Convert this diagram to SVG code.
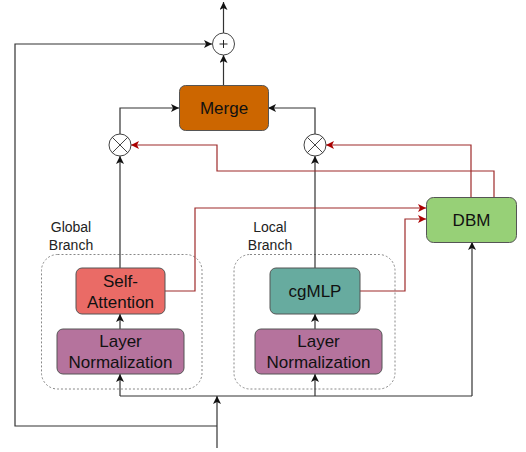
<svg xmlns="http://www.w3.org/2000/svg" width="526" height="452" viewBox="0 0 526 452">
<style>
.box{stroke:#555;stroke-width:1}
.t{font-family:"Liberation Sans",Arial,sans-serif;font-size:17px;fill:#111;text-anchor:middle}
.lbl{font-family:"Liberation Sans",Arial,sans-serif;font-size:14px;fill:#222;text-anchor:middle}
.c{fill:none;stroke:#333;stroke-width:1.2}
.r{fill:none;stroke:#9e2a2a;stroke-width:1.2}
.op{fill:#fff;stroke:#444;stroke-width:1}
.grp{fill:none;stroke:#888;stroke-width:1;stroke-dasharray:2 2}
</style>
<defs>
<marker id="ak" markerUnits="userSpaceOnUse" markerWidth="9" markerHeight="8" refX="8" refY="4" orient="auto">
<path d="M0,0 L8,4 L0,8 L2,4 z" fill="#111"/>
</marker>
<marker id="ar" markerUnits="userSpaceOnUse" markerWidth="9" markerHeight="8" refX="8" refY="4" orient="auto">
<path d="M0,0 L8,4 L0,8 L2,4 z" fill="#a00"/>
</marker>
</defs>
<g id="groups">
<rect id="global-group" class="grp" x="41.5" y="254.5" width="160.5" height="134.5" rx="16"/>
<rect id="local-group" class="grp" x="234" y="254.5" width="161" height="134.5" rx="16"/>
</g>
<g id="connectors">
<path class="c" d="M223.5,33 V2" marker-end="url(#ak)"/>
<path class="c" d="M223.5,85 V55" marker-end="url(#ak)"/>
<path class="c" d="M217,426 H15 V44 H212" marker-end="url(#ak)"/>
<path class="c" d="M217,448 V396" marker-end="url(#ak)"/>
<path class="c" d="M120,396 H472"/>
<path class="c" d="M120,396 V374" marker-end="url(#ak)"/>
<path class="c" d="M315,396 V374" marker-end="url(#ak)"/>
<path class="c" d="M472,396 V242" marker-end="url(#ak)"/>
<path class="c" d="M120,329 V314" marker-end="url(#ak)"/>
<path class="c" d="M315,329 V314" marker-end="url(#ak)"/>
<path class="c" d="M120,268 V156" marker-end="url(#ak)"/>
<path class="c" d="M315,268 V156" marker-end="url(#ak)"/>
<path class="c" d="M120,134 V108 H179" marker-end="url(#ak)"/>
<path class="c" d="M315,134 V108 H268" marker-end="url(#ak)"/>
<path class="r" d="M165,291 H195 V208 H426" marker-end="url(#ar)"/>
<path class="r" d="M360,291 H405 V219 H426" marker-end="url(#ar)"/>
<path class="r" d="M471,197 V145 H326" marker-end="url(#ar)"/>
<path class="r" d="M494,197 V171 H217 V145 H131" marker-end="url(#ar)"/>
</g>
<g id="plus">
<circle class="op" cx="223.5" cy="44" r="11"/>
<path d="M219.5,44 H227.5 M223.5,40 V48" stroke="#222" stroke-width="1"/>
</g>
<g id="mul-left">
<circle class="op" cx="120" cy="145" r="11"/>
<path d="M112.2,137.2 L127.8,152.8 M127.8,137.2 L112.2,152.8" stroke="#444" stroke-width="1"/>
</g>
<g id="mul-right">
<circle class="op" cx="315" cy="145" r="11"/>
<path d="M307.2,137.2 L322.8,152.8 M322.8,137.2 L307.2,152.8" stroke="#444" stroke-width="1"/>
</g>
<g id="merge">
<rect class="box" x="179.5" y="85.5" width="89" height="45" rx="6" fill="#CC6600"/>
<text class="t" x="224" y="113.5">Merge</text>
</g>
<g id="dbm">
<rect class="box" x="426.5" y="197.5" width="90" height="45" rx="7" fill="#97D077"/>
<text class="t" x="471.5" y="226">DBM</text>
</g>
<g id="self-attention">
<rect class="box" x="76" y="268" width="89" height="46" rx="6" fill="#EA6B66"/>
<text class="t" x="120.5" y="286.5">Self-</text>
<text class="t" x="120.5" y="307.5">Attention</text>
</g>
<g id="layernorm-left">
<rect class="box" x="57" y="329" width="127" height="45" rx="6" fill="#B5739D"/>
<text class="t" x="120.5" y="347">Layer</text>
<text class="t" x="120.5" y="368">Normalization</text>
</g>
<g id="cgmlp">
<rect class="box" x="270" y="268" width="90" height="46" rx="6" fill="#67AB9F"/>
<text class="t" x="315" y="297">cgMLP</text>
</g>
<g id="layernorm-right">
<rect class="box" x="255" y="329" width="127" height="45" rx="6" fill="#B5739D"/>
<text class="t" x="318.5" y="347">Layer</text>
<text class="t" x="318.5" y="368">Normalization</text>
</g>
<g id="labels">
<text class="lbl" x="71" y="232">Global</text>
<text class="lbl" x="71" y="250">Branch</text>
<text class="lbl" x="270" y="232">Local</text>
<text class="lbl" x="270" y="250">Branch</text>
</g>
</svg>
